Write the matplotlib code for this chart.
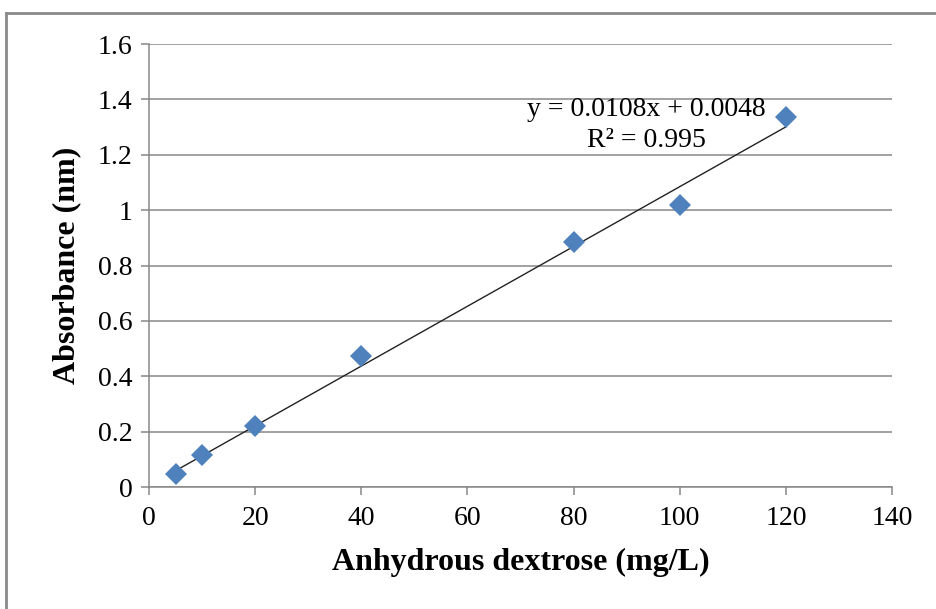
import matplotlib.pyplot as plt
from matplotlib.lines import Line2D

# calibration data
conc = [5, 10, 20, 40, 80, 100, 120]
absorbance = [0.047, 0.116, 0.221, 0.472, 0.884, 1.018, 1.338]
slope = 0.0108
intercept = 0.0048
r_squared = 0.995
x_ticks = [0, 20, 40, 60, 80, 100, 120, 140]
y_ticks = [0, 0.2, 0.4, 0.6, 0.8, 1, 1.2, 1.4, 1.6]
y_tick_labels = ['0', '0.2', '0.4', '0.6', '0.8', '1', '1.2', '1.4', '1.6']

plt.rcParams['font.family'] = ['Liberation Serif', 'DejaVu Serif']

fig = plt.figure(figsize=(9.36, 6.09), dpi=100)
ax = fig.add_axes([0.1592, 0.2003, 0.7938, 0.7274])

grid_col = '#878787'
ax.set_xlim(0, 140)
ax.set_ylim(0, 1.6)
ax.set_xticks(x_ticks)
ax.set_yticks(y_ticks)
ax.set_yticklabels(y_tick_labels)
ax.yaxis.grid(True, color=grid_col, linewidth=1.1)
ax.set_axisbelow(True)
for side in ['top', 'right']:
    ax.spines[side].set_visible(False)
for side in ['left', 'bottom']:
    ax.spines[side].set_color(grid_col)
    ax.spines[side].set_linewidth(1.1)
ax.tick_params(axis='both', colors=grid_col, labelcolor='black', labelsize=20,
               length=6, width=1.1, direction='out')
ax.tick_params(axis='x', pad=8)
ax.tick_params(axis='y', pad=6)

# trendline over the data range
xs = [conc[0], conc[-1]]
ax.plot(xs, [slope * x + intercept for x in xs], color='#222222', linewidth=1.0, zorder=3)
ax.plot(conc, absorbance, linestyle='none', marker='D', markersize=11,
        color='#4F81BD', markeredgewidth=0, zorder=4)

ax.text(0.669, 0.818, 'y = %.4fx + %.4f\nR² = %.3f' % (slope, intercept, r_squared),
        transform=ax.transAxes, ha='center', va='center', fontsize=20,
        linespacing=1.3)

ax.set_xlabel('Anhydrous dextrose (mg/L)', fontsize=23, fontweight='bold', labelpad=12)
ax.set_ylabel('Absorbance (nm)', fontsize=23, fontweight='bold', labelpad=12)

# chart-area frame (left and top edges visible)
fig.add_artist(Line2D([0.0064, 0.0064], [0, 0.9787], color='#8a8a8a', linewidth=2,
                      transform=fig.transFigure))
fig.add_artist(Line2D([0.0064, 1], [0.9787, 0.9787], color='#8a8a8a', linewidth=2,
                      transform=fig.transFigure))

fig.savefig('out.png', dpi=100)
